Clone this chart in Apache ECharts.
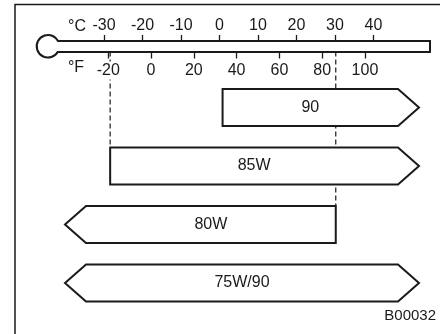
<!DOCTYPE html>
<html>
<head>
<meta charset="utf-8">
<script src="https://cdn.jsdelivr.net/npm/echarts@6/dist/echarts.min.js"></script>
<style>
  html, body { margin: 0; padding: 0; background: #fff; }
  #chart { width: 440px; height: 334px; }
</style>
</head>
<body>
<div id="chart"></div>
<script>
// thermometer scale ticks
const celsiusTicks = [-30, -20, -10, 0, 10, 20, 30, 40];
const fahrenheitTicks = [-20, 0, 20, 40, 60, 80, 100];

// gear oil grades and their temperature range in °C (null = open ended, drawn as arrow)
const grades = ['90', '85W', '80W', '75W/90'];
const lowC = [0.8, -28.4, null, null];
const highC = [null, null, 30.2, null];

// dashed guides from the thermometer down to a grade
const guideC = [-28.4, 30.2];
const guideGrade = ['85W', '80W'];

const figureCode = 'B00032';

// layout
const C_MIN = -41.95, C_MAX = 54.68;
const toF = c => c * 1.8 + 32;
const TUBE_TOP = 41, TUBE_BOTTOM = 51.5;
const ROWS_TOP = 78.25, ROWS_BOTTOM = 21.75;
const GRID_LEFT = 58, GRID_RIGHT = 10;
const BOX_H = 37;
const HEAD = 21;
const OPEN_INSET_L = 28, OPEN_INSET_R = 32;
const INK = '#1a1a1a';
const FONT = 'Liberation Sans, Arial, Helvetica, sans-serif';

const chart = echarts.init(document.getElementById('chart'));

const option = {
  backgroundColor: '#fff',
  animation: false,
  grid: [
    { left: GRID_LEFT, right: GRID_RIGHT, top: TUBE_TOP, height: TUBE_BOTTOM - TUBE_TOP, outerBoundsMode: 'none' },
    { left: GRID_LEFT, right: GRID_RIGHT, top: ROWS_TOP, bottom: ROWS_BOTTOM, outerBoundsMode: 'none' }
  ],
  xAxis: [
    {
      gridIndex: 0, type: 'value', min: C_MIN, max: C_MAX, position: 'top',
      axisLine: { show: true, onZero: false, lineStyle: { color: INK, width: 2 } },
      axisTick: { show: true, customValues: celsiusTicks, length: 6, lineStyle: { color: INK, width: 1.3 } },
      axisLabel: { customValues: celsiusTicks, margin: 7, fontSize: 16, color: INK, fontFamily: FONT },
      splitLine: { show: false }
    },
    {
      gridIndex: 0, type: 'value', min: toF(C_MIN), max: toF(C_MAX), position: 'bottom', z: 5,
      axisLine: { show: true, onZero: false, lineStyle: { color: INK, width: 2 } },
      axisTick: { show: true, customValues: fahrenheitTicks, length: 7, lineStyle: { color: INK, width: 1.3 } },
      axisLabel: {
        customValues: fahrenheitTicks, margin: 10, fontSize: 16, color: INK, fontFamily: FONT,
        backgroundColor: '#fff', padding: [1, 1]
      },
      splitLine: { show: false }
    },
    { gridIndex: 1, type: 'value', min: C_MIN, max: C_MAX, show: false }
  ],
  yAxis: [
    {
      gridIndex: 0, type: 'value', min: 0, max: 1, position: 'right',
      axisLine: { show: true, onZero: false, lineStyle: { color: INK, width: 2 } },
      axisTick: { show: false }, axisLabel: { show: false }, splitLine: { show: false }
    },
    { gridIndex: 1, type: 'category', data: grades, inverse: true, show: false }
  ],
  graphic: [
    { type: 'rect', shape: { x: 15, y: 4.5, width: 500, height: 400 }, style: { fill: null, stroke: INK, lineWidth: 1.5 }, z: 0 },
    { type: 'text', x: 77, y: 27, style: { text: '°C', font: '16px ' + FONT, fill: INK, align: 'center', verticalAlign: 'middle' } },
    { type: 'text', x: 76, y: 68, style: { text: '°F', font: '16px ' + FONT, fill: INK, align: 'center', verticalAlign: 'middle' } },
    { type: 'text', x: 436, y: 316, style: { text: figureCode, font: '15px ' + FONT, fill: INK, align: 'right', verticalAlign: 'middle' } }
  ],
  series: [
    {
      // thermometer bulb
      type: 'custom', xAxisIndex: 0, yAxisIndex: 0, clip: false, silent: true,
      data: [[C_MIN, 0.5]],
      renderItem(params, api) {
        const c = api.coord([C_MIN, 0.5]);
        const h = c[1] - api.coord([C_MIN, 1])[1];
        const r = 11.3;
        const a = Math.asin(h / r);
        return {
          type: 'arc',
          shape: { cx: c[0] - Math.sqrt(r * r - h * h), cy: c[1], r: r, startAngle: a, endAngle: Math.PI * 2 - a, clockwise: true },
          style: { fill: null, stroke: INK, lineWidth: 2 }
        };
      }
    },
    {
      // dashed guide lines
      type: 'custom', xAxisIndex: 2, yAxisIndex: 1, clip: false, silent: true, z: 1,
      data: guideC.map((c, i) => [c, grades.indexOf(guideGrade[i])]),
      renderItem(params, api) {
        const p = api.coord([api.value(0), api.value(1)]);
        return {
          type: 'line',
          shape: { x1: p[0], y1: TUBE_BOTTOM, x2: p[0], y2: p[1] - BOX_H / 2 },
          style: { stroke: INK, lineWidth: 1.2, lineDash: [5, 3] }
        };
      }
    },
    {
      // grade boxes / arrows
      type: 'custom', xAxisIndex: 2, yAxisIndex: 1, clip: false, silent: true, z: 3,
      data: grades.map((g, i) => [i]),
      renderItem(params, api) {
        const i = params.dataIndex;
        const cs = params.coordSys;
        const y = api.coord([0, i])[1];
        const openL = lowC[i] == null, openR = highC[i] == null;
        const x1 = openL ? cs.x + OPEN_INSET_L : api.coord([lowC[i], i])[0];
        const x2 = openR ? cs.x + cs.width - OPEN_INSET_R : api.coord([highC[i], i])[0];
        const t = y - BOX_H / 2, b = y + BOX_H / 2;
        const pts = [[x1, t], [x2, t]];
        if (openR) pts.push([x2 + HEAD, y]);
        pts.push([x2, b], [x1, b]);
        if (openL) pts.push([x1 - HEAD, y]);
        return {
          type: 'group',
          children: [
            { type: 'polygon', shape: { points: pts }, style: { fill: '#fff', stroke: INK, lineWidth: 2, lineJoin: 'miter' } },
            {
              type: 'text', x: (x1 + x2) / 2, y: y,
              style: { text: grades[i], font: '16px ' + FONT, fill: INK, align: 'center', verticalAlign: 'middle' }
            }
          ]
        };
      }
    }
  ]
};

chart.setOption(option);
</script>
</body>
</html>
